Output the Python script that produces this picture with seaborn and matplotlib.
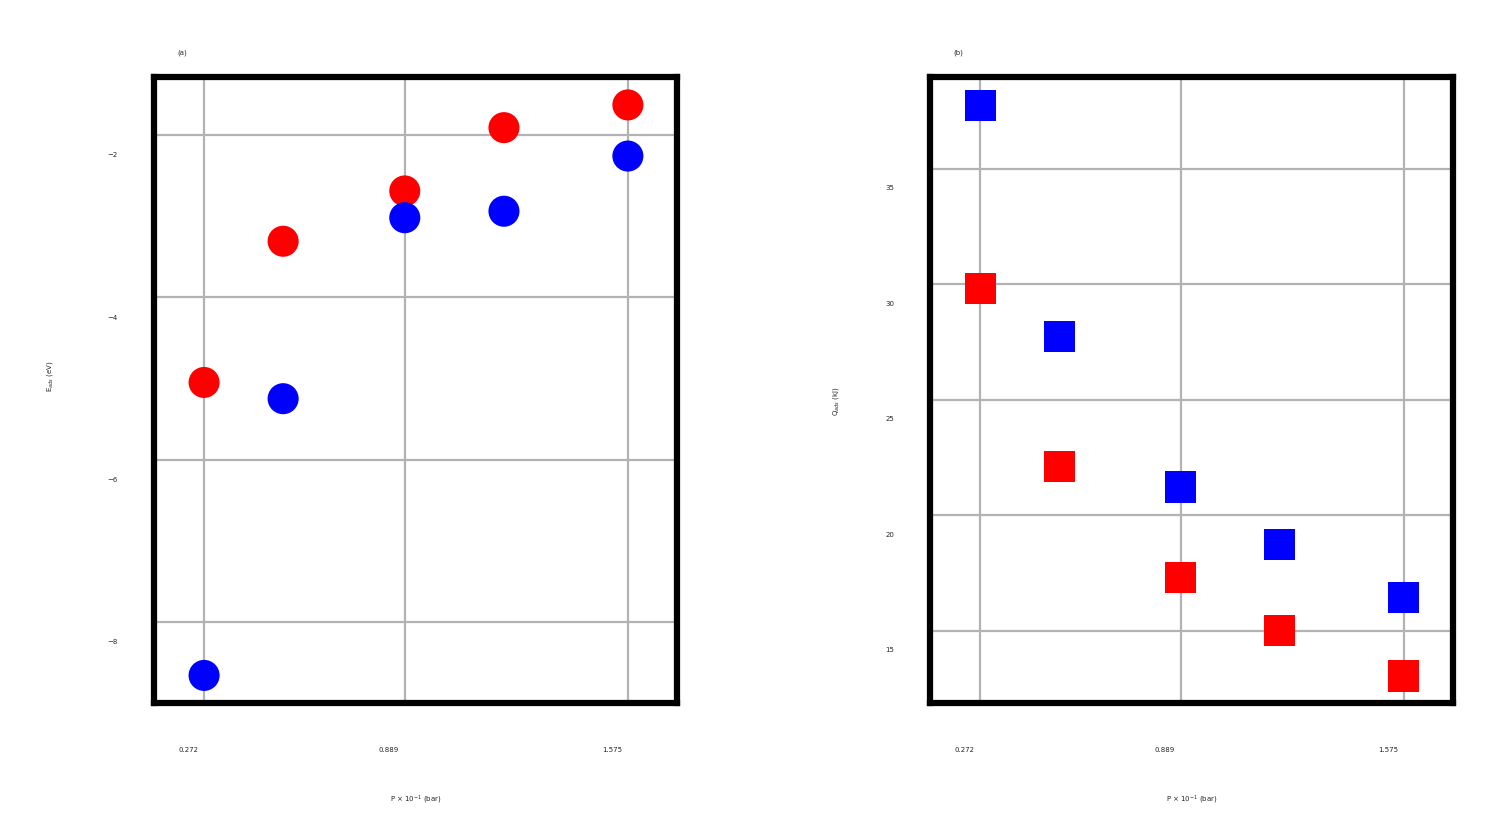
import numpy as np
import pandas as pd
import matplotlib
matplotlib.use("Agg")
import matplotlib.pyplot as plt
import matplotlib.transforms as mtrans
import seaborn as sns

# ---- data ----
pressure = [0.272, 0.515, 0.889, 1.194, 1.575]
xticks = [0.272, 0.889, 1.575]
xtick_labels = ["0.272", "0.889", "1.575"]

left_red = [-5.05, -3.31, -2.69, -1.91, -1.63]
left_blue = [-8.66, -5.25, -3.02, -2.94, -2.26]
left_yticks = [-2, -4, -6, -8]
left_ytick_labels = ["−2", "−4", "−6", "−8"]

right_red = [29.83, 22.10, 17.32, 15.00, 13.05]
right_blue = [37.73, 27.75, 21.23, 18.74, 16.45]
right_yticks = [35, 30, 25, 20, 15]
right_ytick_labels = ["35", "30", "25", "20", "15"]

series_names = ["red", "blue"]
palette = {"red": "#ff0000", "blue": "#0000ff"}

xlabel = "P × 10$^{-1}$ (bar)"
left_ylabel = "E$_{ads}$ (eV)"
right_ylabel = "Q$_{ads}$ (kJ)"

sns.set_style("white")
plt.rcParams["font.family"] = ["DejaVu Sans"]

fig = plt.figure(figsize=(14.94, 8.29), dpi=100)
W, H = 1494, 829
axL = fig.add_axes([154 / W, 1 - 704 / H, 523 / W, 626 / H])
axR = fig.add_axes([930 / W, 1 - 704 / H, 523 / W, 626 / H])


def make_df(red, blue):
    return pd.DataFrame({
        "x": pressure * 2,
        "y": list(red) + list(blue),
        "s": [series_names[0]] * len(red) + [series_names[1]] * len(blue),
    })


dfL = make_df(left_red, left_blue)
dfR = make_df(right_red, right_blue)

sns.scatterplot(data=dfL, x="x", y="y", hue="s", palette=palette, marker="o",
                s=500, linewidth=0, legend=False, ax=axL, zorder=3)
sns.scatterplot(data=dfR, x="x", y="y", hue="s", palette=palette, marker="s",
                s=500, linewidth=0, legend=False, ax=axR, zorder=3)

setup = [
    (axL, left_yticks, left_ytick_labels, (-1.286, -9.0), left_ylabel, "(a)",
     (-0.19, 0.524), -19),
    (axR, right_yticks, right_ytick_labels, (11.88, 38.98), right_ylabel, "(b)",
     (-0.17, 0.484), -18),
]

for ax, yt, ytl, ylim, ylab, title, ylab_pos, ydy in setup:
    ax.set_xlim(0.118, 1.726)
    lo, hi = ylim
    ax.set_ylim(min(lo, hi), max(lo, hi))
    ax.set_xticks(xticks)
    ax.set_xticklabels(xtick_labels, fontsize=5)
    ax.set_yticks(yt)
    ax.set_yticklabels(ytl, fontsize=5)
    ax.tick_params(length=0, pad=0)
    ax.grid(True, color="#b3b3b3", linewidth=1.6, zorder=0)
    ax.set_axisbelow(True)
    for sp in ax.spines.values():
        sp.set_linewidth(4.5)
        sp.set_color("black")
        sp.set_visible(True)
    ax.set_xlabel(xlabel, fontsize=5, va="top")
    ax.xaxis.set_label_coords(0.5, -0.143)
    ax.set_ylabel(ylab, fontsize=5)
    ax.yaxis.set_label_coords(*ylab_pos)
    ax.text(0.054, 1.04, title, transform=ax.transAxes, fontsize=5,
            ha="center", va="center")
    # tick label offsets
    offx = mtrans.ScaledTranslation(-16 / 100, -43 / 100, fig.dpi_scale_trans)
    for lab in ax.get_xticklabels():
        lab.set_transform(lab.get_transform() + offx)
    offy = mtrans.ScaledTranslation(-36 / 100, ydy / 100, fig.dpi_scale_trans)
    for lab in ax.get_yticklabels():
        lab.set_transform(lab.get_transform() + offy)

fig.savefig("out.png", dpi=100, facecolor="white")
